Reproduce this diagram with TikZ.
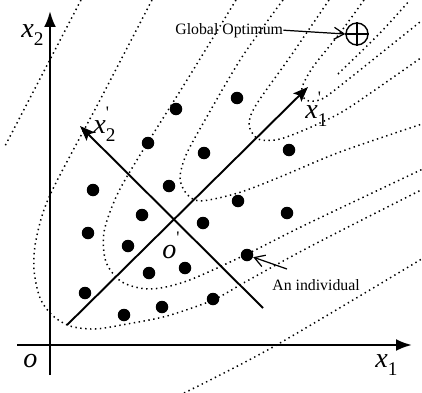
\documentclass[tikz,border=0pt]{standalone}
\usepackage{fontspec}
\setmainfont{Liberation Serif}
\usepackage{tikz}
\usetikzlibrary{arrows.meta, calc}
\newcommand{\axvar}[2]{\textit{#1}\raisebox{-5pt}{\fontsize{11}{12}\selectfont #2}}
\newcommand{\rotvar}[2]{\textit{#1}\rlap{\raisebox{8.5pt}{\fontsize{10}{11}\selectfont\textquotesingle}}\raisebox{-5pt}{\fontsize{11}{12}\selectfont #2}}

\begin{document}
\begin{tikzpicture}[x=0.02cm, y=-0.02cm,
    axis/.style={line width=1.4pt, -{Latex[length=3.2mm, width=2.4mm]}},
    rotaxis/.style={line width=1.1pt, -{Stealth[length=3mm, width=2.3mm, inset=0.6mm]}},
    contour/.style={line width=0.85pt, dash pattern=on 0.8pt off 2pt},
    indiv/.style={circle, fill=black, inner sep=0pt, minimum size=2.5mm},
    varlbl/.style={inner sep=0pt, anchor=base west, font=\fontsize{16}{18}\selectfont},
    note/.style={inner sep=0pt, anchor=base west, font=\fontsize{9}{10}\selectfont},
    pointer/.style={line width=0.7pt, -{Straight Barb[length=2mm, width=2.4mm]}},
]
\useasboundingbox (0,0) rectangle (422,392);

\begin{scope}
\clip (0,0) rectangle (422,392);
\draw[contour] (81,0) -- (5,146);
\draw[contour] plot[smooth] coordinates {(184,393) (273,347) (425,257)};
\draw[contour] plot[smooth] coordinates {(152,0) (100,100) (50,195) (36,240) (34,270) (40,298) (52,315) (70,326) (95,329) (127,324) (167,316) (213,300) (247,281) (313,245) (425,188)};
\draw[contour] plot[smooth] coordinates {(236,0) (187,80) (140,155) (117,195) (104,232) (106,262) (122,282) (150,289) (187,281) (247,254) (307,224) (425,168)};
\draw[contour] plot[smooth] coordinates {(283,0) (242,57) (205,120) (186,155) (180,178) (186,193) (200,201) (238,193) (280,177) (340,152) (425,123)};
\draw[contour] plot[smooth] coordinates {(329,0) (290,57) (256,105) (249,125) (258,139) (275,140) (292,135) (320,123) (350,107) (425,55)};
\draw[contour] plot[smooth] coordinates {(364,0) (340,33) (313,67) (302,88) (306,100) (322,99) (350,78) (385,50) (425,18)};
\draw[contour] plot[smooth] coordinates {(338,74) (380,33) (410,0)};
\end{scope}

\coordinate (x2s) at (50,375);
\coordinate (x2e) at (50,11);
\coordinate (x1s) at (17,345);
\coordinate (x1e) at (412,345);
\draw[axis] (x2s) -- (x2e);
\draw[axis] (x1s) -- (x1e);

\coordinate (r1s) at (67,325);
\coordinate (r1e) at (308,87);
\coordinate (r2s) at (263,308);
\coordinate (r2e) at (80,126);
\draw[rotaxis] (r1s) -- (r1e);
\draw[rotaxis] (r2s) -- (r2e);

\foreach \px/\py [count=\k] in {176/109, 237/98, 148/143, 204/153, 289/150, 93/190, 169/186, 238/201, 142/215, 203/223, 287/213, 88/233, 128/246, 247/255, 149/273, 185/268, 85/293, 213/299, 124/315, 162/307}
    \node[indiv] (d\k) at (\px,\py) {};

\node[varlbl] (lx2) at (21,37) {\axvar{x}{2}};
\node[varlbl] (lx1) at (375,367) {\axvar{x}{1}};
\node[varlbl] (lo) at (23,367) {\textit{o}};
\node[varlbl] (lr1) at (305,118) {\rotvar{x}{1}};
\node[varlbl] (lr2) at (93,133) {\rotvar{x}{2}};
\node[varlbl] (lo2) at (162,258) {\textit{o}\raisebox{8.5pt}{\fontsize{10}{11}\selectfont\textquotesingle}};

\node[draw, circle, minimum size=4.4mm, inner sep=0pt, line width=0.8pt, fill=white] (optimum) at (357,34) {};
\draw[line width=0.8pt] (optimum.north) -- (optimum.south) (optimum.west) -- (optimum.east);

\node[note] (glbl) at (175,34) {Global Optimum};
\draw[pointer] (glbl.east) -- (optimum.west);

\node[note] (indlbl) at (272,290) {An individual};
\coordinate (indtail) at (287,269);
\draw[pointer] (indtail) -- (d14);
\end{tikzpicture}
\end{document}
